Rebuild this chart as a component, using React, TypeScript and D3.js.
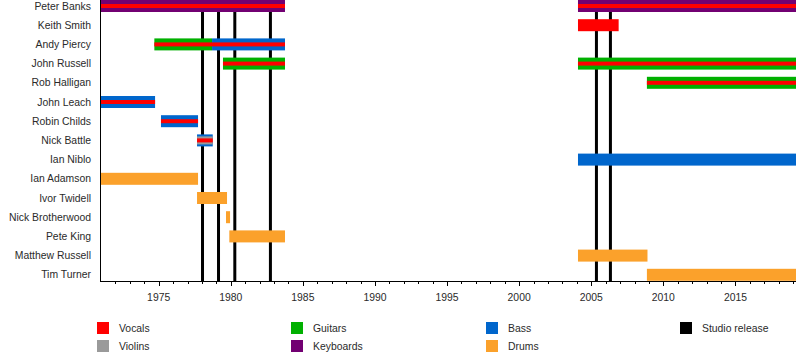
import React, { useEffect, useRef } from 'react';
import * as d3 from 'd3';

const members = [
  'Peter Banks', 'Keith Smith', 'Andy Piercy', 'John Russell', 'Rob Halligan',
  'John Leach', 'Robin Childs', 'Nick Battle', 'Ian Niblo', 'Ian Adamson',
  'Ivor Twidell', 'Nick Brotherwood', 'Pete King', 'Matthew Russell', 'Tim Turner',
];

const roleColors: Record<string, string> = {
  Vocals: '#ff0000',
  Violins: '#9a9a9a',
  Guitars: '#00b000',
  Keyboards: '#720072',
  Bass: '#0066cc',
  Drums: '#fba12b',
  'Studio release': '#000000',
};

// [member, main role, start, end, extra roles]
const stints: [string, string, number, number, string[]][] = [
  ['Peter Banks', 'Keyboards', 1971, 1983.76, ['Vocals']],
  ['Peter Banks', 'Keyboards', 2004.08, 2019.2, ['Vocals']],
  ['Keith Smith', 'Vocals', 2004.08, 2006.9, []],
  ['Andy Piercy', 'Guitars', 1974.7, 1978.7, ['Vocals']],
  ['Andy Piercy', 'Bass', 1978.7, 1983.76, ['Vocals']],
  ['John Russell', 'Guitars', 1979.46, 1983.76, ['Vocals']],
  ['John Russell', 'Guitars', 2004.08, 2019.2, ['Vocals']],
  ['Rob Halligan', 'Guitars', 2008.86, 2019.2, ['Vocals']],
  ['John Leach', 'Bass', 1971, 1974.75, ['Vocals']],
  ['Robin Childs', 'Bass', 1975.16, 1977.73, ['Vocals']],
  ['Nick Battle', 'Bass', 1977.66, 1978.75, ['Violins', 'Vocals']],
  ['Ian Niblo', 'Bass', 2004.08, 2019.2, []],
  ['Ian Adamson', 'Drums', 1971, 1977.73, []],
  ['Ivor Twidell', 'Drums', 1977.66, 1979.74, []],
  ['Nick Brotherwood', 'Drums', 1979.67, 1979.95, []],
  ['Pete King', 'Drums', 1979.9, 1983.76, []],
  ['Matthew Russell', 'Drums', 2004.08, 2008.9, []],
  ['Tim Turner', 'Drums', 2008.86, 2019.2, []],
];

const studioReleases = [1978.04, 1979.15, 1980.28, 1982.75, 2005.36, 2006.33];

const legendCols = [
  ['Vocals', 'Violins'],
  ['Guitars', 'Keyboards'],
  ['Bass', 'Drums'],
  ['Studio release'],
];

const extraHeight: Record<string, number> = { Violins: 8, Vocals: 4 };

const App: React.FC = () => {
  const svgRef = useRef<SVGSVGElement>(null);

  useEffect(() => {
    if (!svgRef.current) return;
    const svg = d3.select(svgRef.current);
    svg.selectAll('*').remove();

    const left = 101;
    const right = 796;
    const axisY = 281;
    const font = 'Liberation Sans, Arial, sans-serif';
    const fontSize = '10.4px';
    const textColor = '#2a2a2a';

    const x = d3.scaleLinear().domain([1971, 2019.2]).range([left, right]);
    const y = d3.scalePoint<string>().domain(members).range([6, 274.8]);
    const barH = 12;

    // studio release lines (behind bars)
    svg.append('g')
      .selectAll('line')
      .data(studioReleases)
      .enter()
      .append('line')
      .attr('x1', d => x(d))
      .attr('x2', d => x(d))
      .attr('y1', 0)
      .attr('y2', axisY)
      .attr('stroke', '#000')
      .attr('stroke-width', 3);

    // main bars
    const bars = svg.append('g');
    bars.selectAll('rect.main')
      .data(stints)
      .enter()
      .append('rect')
      .attr('class', 'main')
      .attr('x', d => x(d[2]))
      .attr('width', d => x(d[3]) - x(d[2]))
      .attr('y', d => (y(d[0]) || 0) - barH / 2)
      .attr('height', barH)
      .attr('fill', d => roleColors[d[1]]);

    // extra role stripes
    const extras = stints.flatMap(s => s[4].map(r => ({ member: s[0], role: r, start: s[2], end: s[3] })));
    bars.selectAll('rect.extra')
      .data(extras)
      .enter()
      .append('rect')
      .attr('class', 'extra')
      .attr('x', d => x(d.start))
      .attr('width', d => x(d.end) - x(d.start))
      .attr('y', d => (y(d.member) || 0) - extraHeight[d.role] / 2)
      .attr('height', d => extraHeight[d.role])
      .attr('fill', d => roleColors[d.role]);

    // member labels
    svg.append('g')
      .selectAll('text')
      .data(members)
      .enter()
      .append('text')
      .attr('x', 91)
      .attr('y', d => y(d) || 0)
      .attr('dy', '0.35em')
      .attr('text-anchor', 'end')
      .style('font-family', font)
      .style('font-size', fontSize)
      .style('fill', textColor)
      .text(d => d);

    // left axis line
    svg.append('line')
      .attr('x1', left - 0.5).attr('x2', left - 0.5)
      .attr('y1', 0).attr('y2', axisY)
      .attr('stroke', '#000').attr('stroke-width', 1);

    // bottom axis with yearly minor ticks
    const years = d3.range(1972, 2020);
    const axis = svg.append('g');
    axis.append('line')
      .attr('x1', left - 1).attr('x2', right)
      .attr('y1', axisY + 0.5).attr('y2', axisY + 0.5)
      .attr('stroke', '#000');
    axis.selectAll('line.tick')
      .data(years)
      .enter()
      .append('line')
      .attr('class', 'tick')
      .attr('x1', d => Math.round(x(d)) + 0.5)
      .attr('x2', d => Math.round(x(d)) + 0.5)
      .attr('y1', axisY)
      .attr('y2', d => (d % 5 === 0 ? axisY + 5 : axisY + 3))
      .attr('stroke', '#000');
    axis.selectAll('text')
      .data(years.filter(d => d % 5 === 0))
      .enter()
      .append('text')
      .attr('x', d => x(d))
      .attr('y', 301)
      .attr('text-anchor', 'middle')
      .style('font-family', font)
      .style('font-size', fontSize)
      .style('fill', textColor)
      .text(d => String(d));

    // legend
    const colX = [97, 291, 486, 680];
    const legend = svg.append('g');
    legendCols.forEach((col, ci) => {
      col.forEach((role, ri) => {
        const ly = 322 + ri * 18;
        legend.append('rect')
          .attr('x', colX[ci])
          .attr('y', ly)
          .attr('width', 12)
          .attr('height', 12)
          .attr('fill', roleColors[role]);
        legend.append('text')
          .attr('x', colX[ci] + 22)
          .attr('y', ly + 6)
          .attr('dy', '0.35em')
          .style('font-family', font)
          .style('font-size', fontSize)
          .style('fill', textColor)
          .text(role);
      });
    });
  }, []);

  return (
    <div style={{ position: 'absolute', left: 0, top: 0 }}>
      <svg ref={svgRef} width={800} height={360} style={{ display: 'block', background: '#fff' }} />
    </div>
  );
};

export default App;
